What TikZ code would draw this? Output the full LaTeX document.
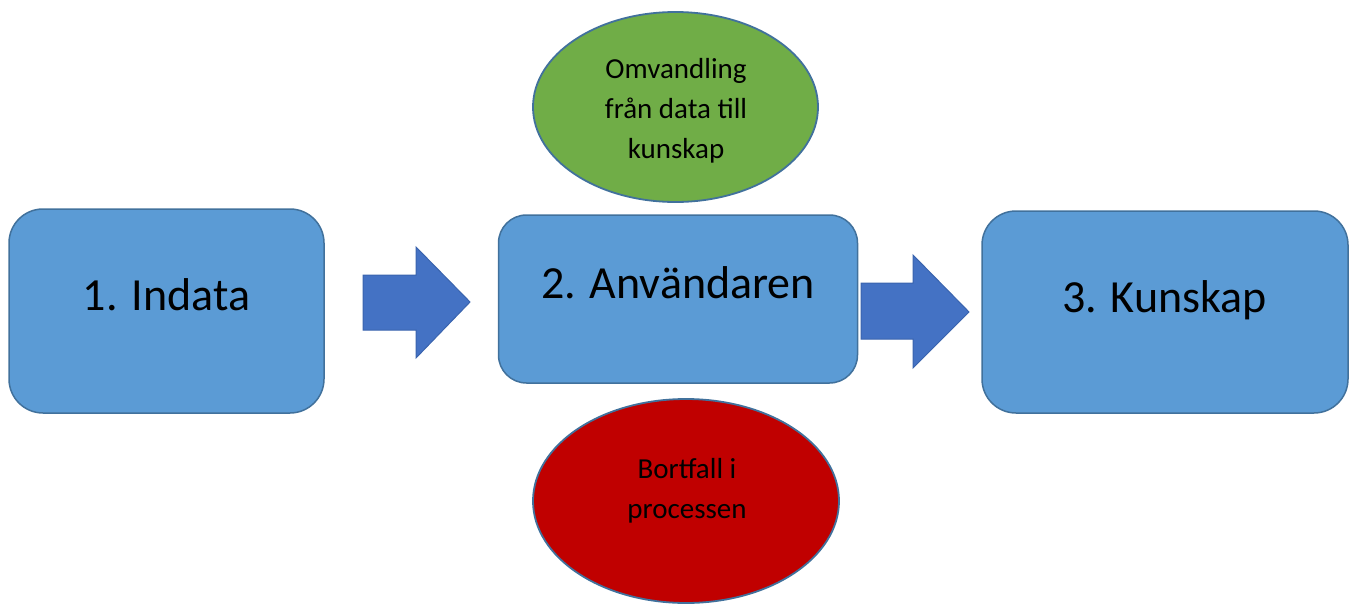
\documentclass[tikz,border=0pt]{standalone}
\usepackage{fontspec}
\setmainfont{Carlito}
\usetikzlibrary{shapes.geometric}
\definecolor{boxfill}{HTML}{5B9BD5}
\definecolor{boxline}{HTML}{41719C}
\definecolor{arrfill}{HTML}{4472C4}
\definecolor{arrline}{HTML}{3A64AE}
\definecolor{greenfill}{HTML}{70AD47}
\definecolor{redfill}{HTML}{C00000}
\tikzset{
  stepbox/.style={draw=boxline, fill=boxfill, line width=1.5pt, inner sep=0pt},
  blockarrow/.style={draw=arrline, fill=arrfill, line width=1pt, line join=miter},
  oval/.style={ellipse, draw=boxline, line width=1.8pt, inner sep=0pt},
  bigtext/.style={font=\fontsize{46}{55}\selectfont, anchor=base, inner sep=0pt},
  smalltext/.style={font=\fontsize{29}{40}\selectfont, align=center, inner sep=0pt}
}
\begin{document}
\begin{tikzpicture}[x=1pt,y=-1pt]
\useasboundingbox (0,0) rectangle (1355,605);
% boxes
\node[stepbox, rounded corners=34pt, minimum width=315pt, minimum height=204pt] (b1) at (166.5,311) {};
\node[stepbox, rounded corners=28pt, minimum width=359pt, minimum height=168pt] (b2) at (678,299) {};
\node[stepbox, rounded corners=34pt, minimum width=366pt, minimum height=202pt] (b3) at (1165,312) {};
\node[bigtext] (t1) at (166.5,310) {1. Indata};
\node[bigtext] (t2) at (678,298) {2. Användaren};
\node[bigtext] (t3) at (1164.5,312) {3. Kunskap};
% block arrows
\draw[blockarrow] (363,275) -- (416,275) -- (416,247) -- (470,302) -- (416,358) -- (416,330) -- (363,330) -- cycle;
\draw[blockarrow] (861,283) -- (913,283) -- (913,255) -- (969,312) -- (913,368) -- (913,339) -- (861,339) -- cycle;
% ellipses
\node[oval, fill=greenfill, minimum width=285pt, minimum height=190pt] (e1) at (675.5,107) {};
\node[smalltext] (et1) at (676,110.5) {Omvandling\\från data till\\kunskap};
\node[oval, fill=redfill, minimum width=306pt, minimum height=204pt] (e2) at (686,501) {};
\node[smalltext] (et2) at (687,490.5) {Bortfall i\\processen};
\end{tikzpicture}
\end{document}
